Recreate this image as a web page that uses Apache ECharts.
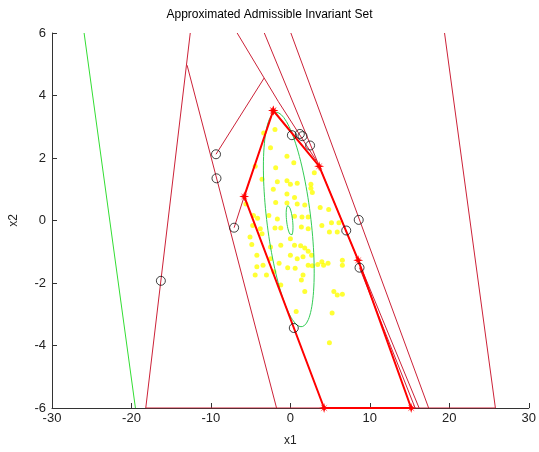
<!DOCTYPE html>
<html>
<head>
<meta charset="utf-8">
<script src="https://cdn.jsdelivr.net/npm/echarts@6/dist/echarts.min.js"></script>
<style>
  html, body { margin: 0; padding: 0; background: #fff; }
  #chart { width: 539px; height: 452px; }
</style>
</head>
<body>
<div id="chart"></div>
<script>
// Axis ticks
const xTicks = [-30, -20, -10, 0, 10, 20, 30];
const yTicks = [-6, -4, -2, 0, 2, 4, 6];

// Constraint lines (thin red), each a list of [x1, x2] points
const lineA = [[-18.2, -6], [-12.6, 6]];
const lineB = [[-13.0, 4.97], [-1.74, -6]];
const lineC = [[-9.36, 2.12], [-3.3, 4.56]];
const lineD = [[-6.7, 6], [-3.3, 4.56], [-1.5, 3.8], [3.3, 1.9]];
const lineE = [[-3.28, 6], [16.2, -6]];
const lineF = [[0.06, 6], [17.4, -6]];
const lineG = [[19.4, 6], [25.8, -6]];
const lineH = [[-7.08, -0.23], [-5.81, 0.77]];
const lineI = [[8.7, -1.51], [15.7, -6]];
const lineBase = [[-18.2, -6], [25.8, -6]];

// Green boundary line
const greenLine = [[-25.96, 6], [-19.5, -6]];

// Admissible invariant set vertices (thick red polygon)
const polygon = [
  [-2.16, 3.52], [3.62, 1.74], [8.53, -1.27], [15.2, -6],
  [4.24, -6], [-5.81, 0.77], [-2.16, 3.52]
];

// Black circle markers
const circles = [
  [-16.3, -1.93], [-9.36, 2.12], [-9.3, 1.35], [-7.08, -0.23],
  [0.19, 2.73], [1.19, 2.77], [1.52, 2.7], [2.48, 2.4],
  [8.6, 0.02], [7.03, -0.32], [8.7, -1.51], [0.43, -3.44]
];

// Ellipse shape vectors: point(t) = (p cos t + q sin t, r cos t)
const bigEllipse = { p: -1.56, q: 2.79, r: 3.43, cx: -0.2, cy: 0.03 };
const smallEllipse = { p: -0.2, q: 0.38, r: 0.48, cx: -0.1, cy: 0.0 };

// Yellow sample points
const samples = [
  [-3.36, 2.80], [-1.94, 2.91], [-2.50, 2.33], [-0.43, 2.06], [0.43, 1.85],
  [-4.43, 1.74], [-1.85, 1.69], [3.01, 1.53], [-3.57, 1.32], [-1.64, 1.24],
  [-0.43, 1.27], [0.0, 1.16], [0.86, 1.19], [2.58, 1.16], [2.58, 1.03],
  [-2.15, 1.00], [2.76, 0.90], [-0.43, 0.85], [0.52, 0.74], [-1.85, 0.58],
  [-0.43, 0.56], [0.86, 0.53], [1.81, 0.50], [3.75, 0.42], [4.82, 0.35],
  [-5.60, 0.53], [-4.65, 0.16], [-4.13, 0.07], [-2.71, 0.16], [-1.64, 0.05],
  [0.52, 0.14], [1.46, 0.11], [2.24, 0.11], [5.17, -0.07], [6.11, -0.07],
  [-4.74, -0.16], [-3.79, -0.26], [-3.57, -0.42], [-1.94, -0.24], [-1.21, -0.24],
  [1.38, -0.21], [2.24, -0.26], [3.96, -0.16], [4.91, -0.37], [5.90, -0.37],
  [-5.08, -0.53], [-4.86, -0.77], [-4.22, -1.11], [-2.50, -0.85], [-1.21, -0.79],
  [0.0, -0.58], [0.52, -0.79], [1.29, -0.81], [1.81, -0.88], [2.24, -0.98],
  [2.67, -1.11], [3.96, -1.32], [4.74, -1.37], [6.54, -1.27], [-4.22, -1.48],
  [-3.44, -1.43], [-2.50, -1.22], [-1.42, -1.37], [0.0, -1.11], [0.86, -1.22],
  [1.59, -1.16], [2.24, -1.43], [2.76, -1.45], [3.44, -1.41], [4.18, -1.43],
  [6.54, -1.43], [-4.43, -1.74], [-3.01, -1.74], [-2.07, -1.64], [-0.34, -1.51],
  [0.60, -1.53], [1.38, -1.90], [1.59, -1.74], [-1.21, -2.06], [1.81, -2.27],
  [5.47, -2.27], [5.90, -2.38], [6.54, -2.36], [0.73, -2.91], [5.25, -2.96],
  [4.91, -3.91]
];

function ellipsePoints(e) {
  const pts = [];
  for (let i = 0; i <= 120; i++) {
    const t = (i / 120) * Math.PI * 2;
    pts.push([e.cx + e.p * Math.cos(t) + e.q * Math.sin(t), e.cy + e.r * Math.cos(t)]);
  }
  return pts;
}

const thinRed = '#cc2238';
const starPath = 'path://M0,-10 L2,-3 L7,-7 L3,-2 L10,0 L3,2 L7,7 L2,3 L0,10 L-2,3 L-7,7 L-3,2 L-10,0 L-3,-2 L-7,-7 L-2,-3 Z';

function thin(data, color) {
  return {
    type: 'line', data: data, showSymbol: false, silent: true,
    lineStyle: { color: color || thinRed, width: 1 }, z: 2
  };
}

const series = [
  thin(lineBase), thin(lineA), thin(lineB), thin(lineC), thin(lineD),
  thin(lineE), thin(lineF), thin(lineG), thin(lineH), thin(lineI),
  thin(greenLine, '#33dd33'),
  {
    type: 'scatter', data: samples, symbol: 'circle', symbolSize: 5,
    itemStyle: { color: '#ffff00' }, silent: true, z: 3
  },
  {
    type: 'line', data: ellipsePoints(bigEllipse), showSymbol: false, silent: true,
    lineStyle: { color: '#33cc55', width: 1 }, z: 4
  },
  {
    type: 'line', data: ellipsePoints(smallEllipse), showSymbol: false, silent: true,
    lineStyle: { color: '#33cc55', width: 1 }, z: 4
  },
  {
    type: 'line', data: polygon, symbol: starPath, symbolSize: 10, showSymbol: true,
    silent: true, lineStyle: { color: '#ff0000', width: 2 },
    itemStyle: { color: '#ff0000' }, z: 5
  },
  {
    type: 'scatter', data: circles, symbol: 'circle', symbolSize: 9,
    itemStyle: { color: 'rgba(0,0,0,0)', borderColor: '#111', borderWidth: 1 },
    silent: true, z: 6
  }
];

const chart = echarts.init(document.getElementById('chart'), null, { renderer: 'canvas' });
chart.setOption({
  animation: false,
  backgroundColor: '#ffffff',
  title: {
    text: 'Approximated Admissible Invariant Set',
    left: 'center', top: 4,
    textStyle: { fontFamily: 'Liberation Sans, Arial, sans-serif', fontSize: 12, fontWeight: 'normal', color: '#000' }
  },
  grid: { left: 52, right: 8, top: 33, bottom: 40, containLabel: false },
  xAxis: {
    type: 'value', min: -30, max: 30, interval: 10,
    name: 'x1', nameLocation: 'middle', nameGap: 27,
    nameTextStyle: { fontFamily: 'Liberation Sans, Arial, sans-serif', fontSize: 12, color: '#222' },
    axisLine: { show: true, onZero: false, lineStyle: { color: '#333', width: 1 } },
    axisTick: { show: true, inside: true, length: 5, lineStyle: { color: '#333' } },
    axisLabel: {
      fontFamily: 'Liberation Sans, Arial, sans-serif', fontSize: 13, color: '#222', margin: 4,
      customValues: xTicks
    },
    splitLine: { show: false }
  },
  yAxis: {
    type: 'value', min: -6, max: 6, interval: 2,
    name: 'x2', nameLocation: 'middle', nameGap: 32,
    nameTextStyle: { fontFamily: 'Liberation Sans, Arial, sans-serif', fontSize: 12, color: '#222' },
    axisLine: { show: true, onZero: false, lineStyle: { color: '#333', width: 1 } },
    axisTick: { show: true, inside: true, length: 5, lineStyle: { color: '#333' } },
    axisLabel: {
      fontFamily: 'Liberation Sans, Arial, sans-serif', fontSize: 13, color: '#222', margin: 6,
      customValues: yTicks
    },
    splitLine: { show: false }
  },
  series: series
});
</script>
</body>
</html>
